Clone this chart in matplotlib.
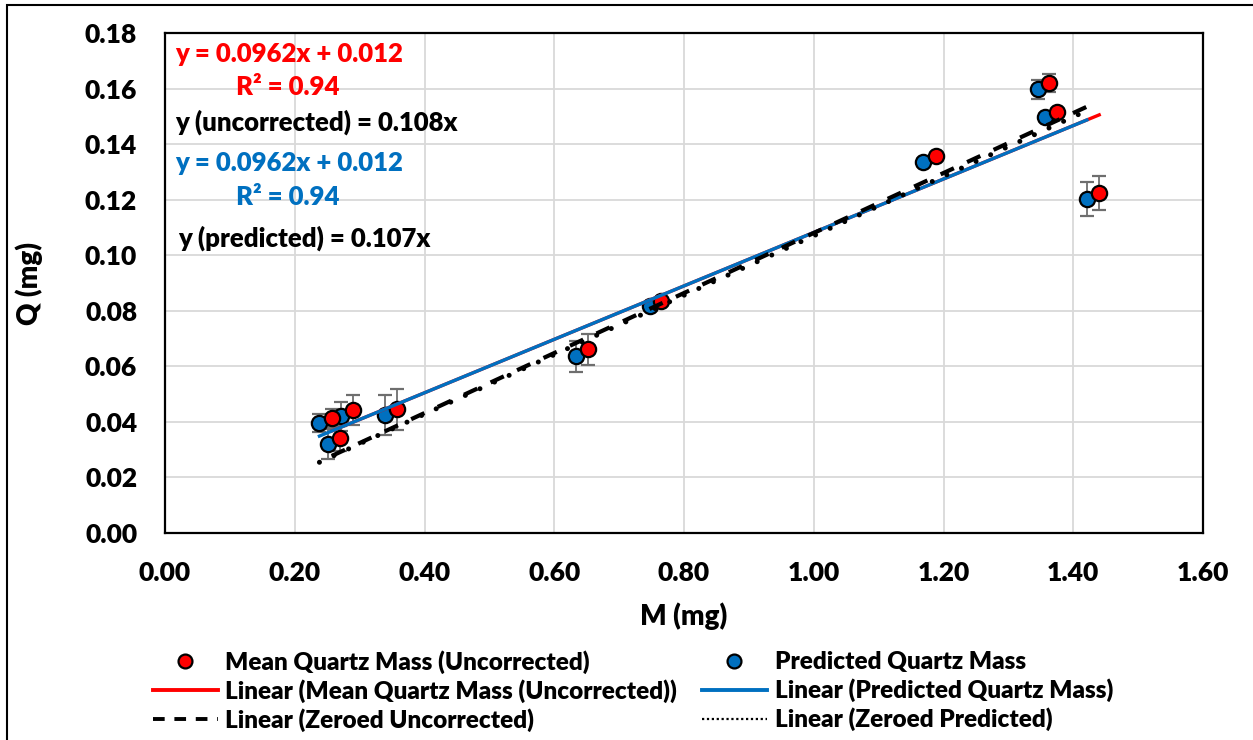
import numpy as np
import matplotlib
matplotlib.use("Agg")
import matplotlib.pyplot as plt
from matplotlib.lines import Line2D
from matplotlib.patches import Rectangle

plt.rcParams['font.family'] = ['Lato', 'DejaVu Sans']
plt.rcParams['font.weight'] = 'bold'
GEW = 'heavy'

# ------------------------------
# Daten
# ------------------------------
m_unkorr = [0.257, 0.270, 0.289, 0.357, 0.652, 0.764, 1.188, 1.363, 1.375, 1.440]
q_unkorr = [0.0413, 0.0341, 0.0443, 0.0445, 0.0661, 0.0836, 0.1358, 0.1621, 0.1517, 0.1223]
err_unkorr = [0.0032, 0.0045, 0.0054, 0.0074, 0.0057, 0.0010, 0.0010, 0.0032, 0.0010, 0.0061]

m_pred = [0.238, 0.251, 0.271, 0.339, 0.633, 0.747, 1.168, 1.345, 1.356, 1.421]
q_pred = [0.0395, 0.0320, 0.0421, 0.0425, 0.0637, 0.0817, 0.1335, 0.1597, 0.1497, 0.1201]
err_pred = [0.0032, 0.0054, 0.0052, 0.0072, 0.0056, 0.0010, 0.0010, 0.0034, 0.0010, 0.0061]

# Trendlinien laut Gleichungen
steig_unkorr, achse_unkorr = 0.0962, 0.012
steig_pred, achse_pred = 0.0962, 0.012
steig_null_unkorr = 0.108
steig_null_pred = 0.107

rot = '#FF0000'
blau = '#0070C0'
grau = '#6E6E6E'

fig = plt.figure(figsize=(12.53, 7.40), dpi=100)
ax = fig.add_axes([0.1317, 0.2797, 0.8284, 0.6757])

# Rahmen um die ganze Grafik
fig.patches.append(Rectangle((7 / 1253, -0.01), 1.0, 1 - 5 / 740 + 0.01,
                             transform=fig.transFigure, fill=False,
                             edgecolor='black', linewidth=1.5))

# ------------------------------
# Messpunkte mit Fehlerbalken
# ------------------------------
ax.errorbar(m_pred, q_pred, yerr=err_pred, fmt='o', color=blau,
            markerfacecolor=blau, markeredgecolor='black', markeredgewidth=1.6,
            markersize=11, ecolor=grau, elinewidth=1.3, capsize=5, capthick=1.3,
            zorder=3)
ax.errorbar(m_unkorr, q_unkorr, yerr=err_unkorr, fmt='o', color=rot,
            markerfacecolor=rot, markeredgecolor='black', markeredgewidth=1.6,
            markersize=11, ecolor=grau, elinewidth=1.3, capsize=5, capthick=1.3,
            zorder=3)

# ------------------------------
# Trendlinien
# ------------------------------
x_u = np.array([min(m_unkorr), max(m_unkorr)])
x_p = np.array([min(m_pred), max(m_pred)])
ax.plot(x_u, steig_unkorr * x_u + achse_unkorr, color=rot, lw=2.4, zorder=4)
ax.plot(x_p, steig_pred * x_p + achse_pred, color=blau, lw=2.4, zorder=4)
ax.plot(x_u, steig_null_unkorr * x_u, color='black', lw=3.0,
        linestyle=(0, (3.5, 3.5)), zorder=4)
ax.plot(x_p, steig_null_pred * x_p, color='black', lw=3.6,
        linestyle=(0, (0.01, 3.2)), dash_capstyle='round', zorder=4)

# ------------------------------
# Achsen
# ------------------------------
xt = np.arange(0, 1.61, 0.2)
yt = np.arange(0, 0.181, 0.02)
ax.set_xlim(0, 1.6)
ax.set_ylim(0, 0.18)
ax.set_xticks(xt)
ax.set_yticks(yt)
ax.set_xticklabels([f"{v:.2f}" for v in xt], fontsize=19, fontweight=GEW)
ax.set_yticklabels([f"{v:.2f}" for v in yt], fontsize=19, fontweight=GEW)
ax.tick_params(axis='x', length=0, pad=20)
ax.tick_params(axis='y', length=0, pad=20)
ax.grid(True, color='#D9D9D9', linewidth=1.3)
ax.set_axisbelow(True)
for sp in ax.spines.values():
    sp.set_linewidth(1.6)
ax.set_xlabel("M (mg)", fontsize=20, fontweight=GEW, labelpad=13)
ax.set_ylabel("Q (mg)", fontsize=20, fontweight=GEW, labelpad=30)

# ------------------------------
# Gleichungen
# ------------------------------
tx = dict(transform=ax.transData, fontsize=18.5, fontweight=GEW, va='center')
ax.text(0.015, 0.1726, "y = 0.0962x + 0.012", color=rot, **tx)
ax.text(0.109, 0.1607, "R² = 0.94", color=rot, **tx)
ax.text(0.015, 0.1479, "y (uncorrected) = 0.108x", color='black', **tx)
ax.text(0.015, 0.1332, "y = 0.0962x + 0.012", color=blau, **tx)
ax.text(0.109, 0.1210, "R² = 0.94", color=blau, **tx)
ax.text(0.020, 0.1062, "y (predicted) = 0.107x", color='black', **tx)

# ------------------------------
# Legende
# ------------------------------
handles = [
    Line2D([], [], marker='o', linestyle='none', markerfacecolor=rot,
           markeredgecolor='black', markeredgewidth=1.6, markersize=10),
    Line2D([], [], color=rot, lw=2.8),
    Line2D([], [], color='black', lw=2.8, linestyle=(0, (3, 2.5))),
    Line2D([], [], marker='o', linestyle='none', markerfacecolor=blau,
           markeredgecolor='black', markeredgewidth=1.6, markersize=10),
    Line2D([], [], color=blau, lw=2.8),
    Line2D([], [], color='black', lw=1.6, linestyle=(0, (1, 1.2))),
]
labels = [
    "Mean Quartz Mass (Uncorrected)",
    "Linear (Mean Quartz Mass (Uncorrected))",
    "Linear (Zeroed Uncorrected)",
    "Predicted Quartz Mass",
    "Linear (Predicted Quartz Mass)",
    "Linear (Zeroed Predicted)",
]
leg = fig.legend(handles, labels, ncol=2, loc='upper left', frameon=False,
                 prop={'size': 17.5, 'weight': GEW}, handlelength=2.7,
                 handletextpad=0.3, labelspacing=0.22, columnspacing=1.0,
                 borderaxespad=0, bbox_to_anchor=(0.114, 0.135),
                 bbox_transform=fig.transFigure)

fig.savefig("out.png", dpi=100)
